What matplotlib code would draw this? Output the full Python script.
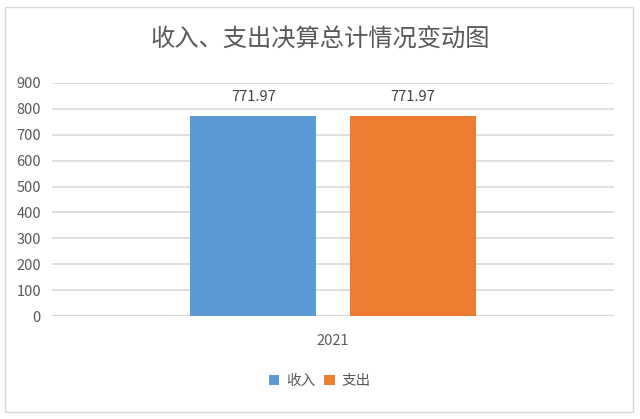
import matplotlib
matplotlib.use("Agg")
import matplotlib.pyplot as plt
import numpy as np
from matplotlib.patches import Rectangle

plt.rcParams["font.family"] = ["Noto Sans CJK SC", "DejaVu Sans"]

categories = ["2021"]
series_names = ["收入", "支出"]
series_values = [[771.97], [771.97]]
colors = ["#5B9BD5", "#ED7D31"]
title = "收入、支出决算总计情况变动图"
yticks = [0, 100, 200, 300, 400, 500, 600, 700, 800, 900]

text_color = "#595959"
grid_color = "#D9D9D9"

fig = plt.figure(figsize=(6.4, 4.19), dpi=100)
fig.patches.append(Rectangle((5 / 640, 7 / 419), 628 / 640, 405 / 419,
                             transform=fig.transFigure, fill=False,
                             edgecolor=grid_color, linewidth=1.0))

ax = fig.add_axes([52 / 640, (419 - 316) / 419, 562 / 640, 233 / 419])

x = np.arange(len(categories))
width = 0.224
offsets = [-0.142, 0.142]
for name, vals, col, off in zip(series_names, series_values, colors, offsets):
    bars = ax.bar(x + off, vals, width, color=col, label=name, zorder=3)
    for b, v in zip(bars, vals):
        ax.text(b.get_x() + b.get_width() / 2, v + 45, f"{v:.2f}",
                ha="center", va="bottom", fontsize=10.5, color="#404040")

ax.set_xlim(-0.5, 0.5)
ax.set_ylim(0, 900)
ax.set_yticks(yticks)
ax.set_yticklabels([str(t) for t in yticks])
ax.set_xticks(x)
ax.set_xticklabels(categories)
ax.tick_params(axis="both", length=0, colors=text_color, labelsize=10.5)
ax.tick_params(axis="y", pad=8)
ax.tick_params(axis="x", pad=13)
ax.yaxis.grid(True, color=grid_color, linewidth=1.2, zorder=0)
for s in ax.spines.values():
    s.set_visible(False)
ax.axhline(0, color=grid_color, linewidth=1.6, zorder=2)

fig.text(0.5, (419 - 40) / 419, title, ha="center", va="center",
         fontsize=17.5, color=text_color)

fig.legend(loc="center", bbox_to_anchor=(0.5, (419 - 381) / 419), ncol=2,
           frameon=False, fontsize=10.5, handlelength=0.7, handleheight=0.7,
           handletextpad=0.5, columnspacing=0.6, labelcolor=text_color)

fig.savefig("out.png", dpi=100)
